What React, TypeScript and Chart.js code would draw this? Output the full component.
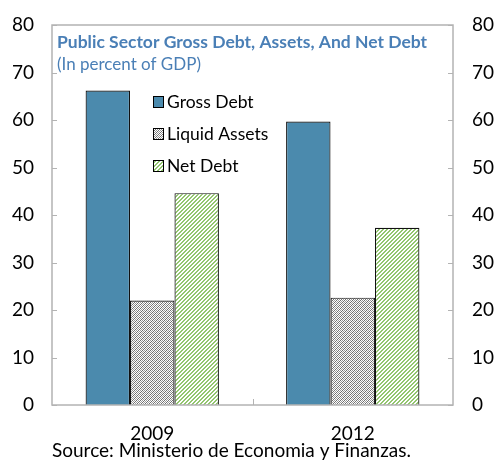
import React, { useEffect, useRef } from "react";
import { Chart, registerables } from "chart.js";

Chart.register(...registerables);

const categories = ["2009", "2012"];
const grossDebt = [66.2, 59.7];
const liquidAssets = [22.0, 22.6];
const netDebt = [44.6, 37.3];
const yTicks = [0, 10, 20, 30, 40, 50, 60, 70, 80];
const titleText = "Public Sector Gross Debt, Assets, And Net Debt";
const subtitleText = "(In percent of GDP)";
const sourceText = "Source: Ministerio de Economia y Finanzas.";
const seriesNames = ["Gross Debt", "Liquid Assets", "Net Debt"];

const FONT = "Lato, 'Open Sans', sans-serif";

function makeGrayPattern(): CanvasPattern | string {
  const c = document.createElement("canvas");
  c.width = 4;
  c.height = 4;
  const ctx = c.getContext("2d");
  if (!ctx) return "#aaa";
  ctx.fillStyle = "#ffffff";
  ctx.fillRect(0, 0, 4, 4);
  for (let x = 0; x < 4; x++) {
    for (let y = 0; y < 4; y++) {
      if ((x + y) % 2 === 0) {
        ctx.fillStyle = (x + y) % 4 === 0 ? "#6f6f6f" : "#9a9a9a";
        ctx.fillRect(x, y, 1, 1);
      }
    }
  }
  const p = ctx.createPattern(c, "repeat");
  return p || "#aaa";
}

function makeGreenPattern(): CanvasPattern | string {
  const c = document.createElement("canvas");
  c.width = 4;
  c.height = 4;
  const ctx = c.getContext("2d");
  if (!ctx) return "#9bc47a";
  ctx.fillStyle = "#ffffff";
  ctx.fillRect(0, 0, 4, 4);
  ctx.fillStyle = "#93c66f";
  for (let i = 0; i < 4; i++) {
    ctx.fillRect(i, 3 - i, 1, 1);
    ctx.fillRect(i, (4 - i) % 4, 1, 1);
  }
  const p = ctx.createPattern(c, "repeat");
  return p || "#9bc47a";
}

export default function App() {
  const ref = useRef<HTMLCanvasElement>(null);

  useEffect(() => {
    document.body.style.margin = "0";
    const canvas = ref.current;
    if (!canvas) return;
    const gray = makeGrayPattern();
    const green = makeGreenPattern();
    const fills: any[] = ["#4b8aad", gray, green];

    const overlay = {
      id: "overlay",
      afterDraw(chart: any) {
        const ctx = chart.ctx as CanvasRenderingContext2D;
        const a = chart.chartArea;
        const yS = chart.scales.y;
        ctx.save();
        ctx.strokeStyle = "#b3b3b3";
        ctx.lineWidth = 1.5;
        ctx.strokeRect(a.left, a.top, a.right - a.left, a.bottom - a.top);
        ctx.lineWidth = 1;
        yTicks.forEach((v) => {
          const y = Math.round(yS.getPixelForValue(v)) + 0.5;
          ctx.beginPath();
          ctx.moveTo(a.left, y);
          ctx.lineTo(a.left + 5, y);
          ctx.moveTo(a.right, y);
          ctx.lineTo(a.right - 5, y);
          ctx.stroke();
        });
        const midX = Math.round((a.left + a.right) / 2) + 0.5;
        ctx.beginPath();
        ctx.moveTo(midX, a.bottom);
        ctx.lineTo(midX, a.bottom - 6);
        ctx.stroke();

        ctx.textBaseline = "middle";
        ctx.textAlign = "left";
        ctx.fillStyle = "#4a7fb6";
        ctx.font = `bold 17.5px ${FONT}`;
        ctx.fillText(titleText, a.left + 5, 42);
        ctx.font = `17px ${FONT}`;
        ctx.fillText(subtitleText, a.left + 5, 65);

        const lx = 153;
        const rows = [102, 134, 166];
        seriesNames.forEach((name, i) => {
          const cy = rows[i];
          ctx.fillStyle = fills[i];
          ctx.fillRect(lx, cy - 5.5, 11, 11);
          ctx.strokeStyle = "#000";
          ctx.lineWidth = 1;
          ctx.strokeRect(lx + 0.5, cy - 5.5, 10, 11);
          ctx.fillStyle = "#000";
          ctx.font = `17.5px ${FONT}`;
          ctx.fillText(name, lx + 14, cy);
        });

        ctx.fillStyle = "#000";
        ctx.font = `19px ${FONT}`;
        ctx.fillText(sourceText, 52, 451);
        ctx.restore();
      },
    };

    const tickFont = { family: FONT, size: 19 };
    const fitY = (w: number) => (s: any) => {
      s.width = w;
      s.paddingTop = 0;
      s.paddingBottom = 0;
    };

    const chart = new Chart(canvas, {
      type: "bar",
      data: {
        labels: categories,
        datasets: [
          { label: seriesNames[0], data: grossDebt, backgroundColor: fills[0], borderColor: "#111", borderWidth: 1.2 },
          { label: seriesNames[1], data: liquidAssets, backgroundColor: fills[1], borderColor: "#111", borderWidth: 1.2 },
          { label: seriesNames[2], data: netDebt, backgroundColor: fills[2], borderColor: "#111", borderWidth: 1.2 },
        ],
      },
      options: {
        responsive: false,
        animation: false,
        layout: { padding: { top: 25, left: 0, right: 0, bottom: 0 } },
        plugins: { legend: { display: false }, tooltip: { enabled: false }, title: { display: false } },
        datasets: { bar: { barPercentage: 1, categoryPercentage: 0.665 } },
        scales: {
          x: {
            grid: { display: false, drawTicks: false },
            border: { display: false },
            ticks: { padding: 17, color: "#000", font: tickFont },
            afterFit: (s: any) => {
              s.height = 59;
              s.paddingLeft = 0;
              s.paddingRight = 0;
            },
          },
          y: {
            position: "left",
            min: 0,
            max: 80,
            grid: { display: false, drawTicks: false },
            border: { display: false },
            ticks: { stepSize: 10, padding: 18, color: "#000", font: tickFont },
            afterFit: fitY(52),
          },
          y2: {
            position: "right",
            min: 0,
            max: 80,
            grid: { display: false, drawTicks: false },
            border: { display: false },
            ticks: { stepSize: 10, padding: 19, color: "#000", font: tickFont },
            afterFit: fitY(43),
          },
        },
      },
      plugins: [overlay],
    });
    return () => chart.destroy();
  }, []);

  return (
    <div style={{ width: 496, height: 464 }}>
      <canvas ref={ref} width={496} height={464} style={{ display: "block" }} />
    </div>
  );
}
